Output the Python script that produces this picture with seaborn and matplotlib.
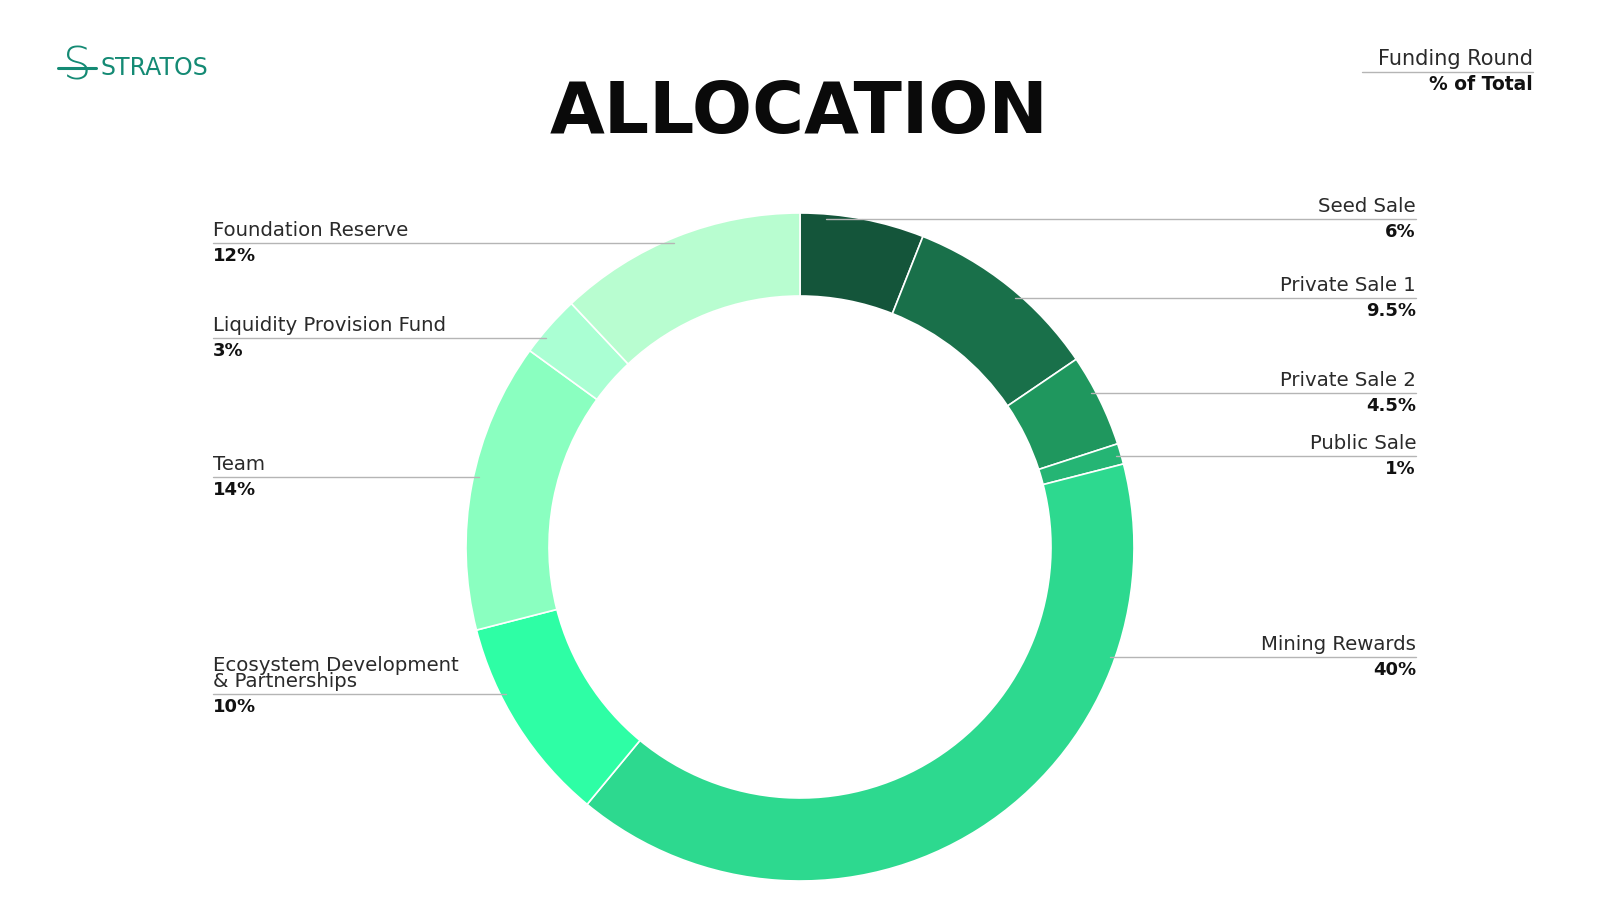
import numpy as np
import seaborn as sns
import matplotlib.pyplot as plt
from matplotlib.lines import Line2D

# allocation data, clockwise from 12 o'clock
names = ["Seed Sale", "Private Sale 1", "Private Sale 2", "Public Sale", "Mining Rewards",
         "Ecosystem Development\n& Partnerships", "Team", "Liquidity Provision Fund",
         "Foundation Reserve"]
shares = [6, 9.5, 4.5, 1, 40, 10, 14, 3, 12]
pct_labels = ["6%", "9.5%", "4.5%", "1%", "40%", "10%", "14%", "3%", "12%"]
colors = ["#14553a", "#19704a", "#1f975e", "#25b574", "#2dd98f",
          "#2efea5", "#8affc0", "#aaffd3", "#b8fdd0"]

# layout (pixels, y measured from the top)
W, H = 1600, 900
cx, cy = 800, 547
R, ring = 334, 83
label_y = [219, 298, 393, 456, 657, 694, 477, 338, 243]
label_side = [1, 1, 1, 1, 1, -1, -1, -1, -1]
right_x, left_x = 1416, 213
line_col = "#b5b5b5"

sns.set_theme(style="white")
plt.rcParams["font.family"] = ["DejaVu Sans"]

fig = plt.figure(figsize=(16, 9), dpi=100)
ax = fig.add_axes([0, 0, 1, 1])

ax.pie(shares, colors=colors, startangle=90, counterclock=False,
       center=(cx, H - cy), radius=R,
       wedgeprops=dict(width=ring, edgecolor="white", linewidth=1.2))
ax.set_xlim(0, W)
ax.set_ylim(0, H)
ax.set_aspect("auto")
ax.axis("off")

for name, pct, y, side in zip(names, pct_labels, label_y, label_side):
    dy = cy - y
    x0 = cx + side * np.sqrt((0.985 * R) ** 2 - dy ** 2)
    yy = H - y
    if side > 0:
        ax.add_line(Line2D([x0, right_x], [yy, yy], color=line_col, lw=1))
        tx, ha = right_x, "right"
    else:
        ax.add_line(Line2D([left_x, x0], [yy, yy], color=line_col, lw=1))
        tx, ha = left_x, "left"
    ax.text(tx, yy + 3, name, ha=ha, va="bottom", fontsize=14.2, color="#2a2a2a",
            linespacing=0.82)
    ax.text(tx, yy - 4, pct, ha=ha, va="top", fontsize=13, fontweight="bold",
            color="#111111")

# title
ax.text(799, H - 113, "ALLOCATION", ha="center", va="center", fontsize=51,
        fontweight="bold", color="#0a0a0a")

# header key, top right
ax.add_line(Line2D([1362, 1533], [H - 72, H - 72], color=line_col, lw=1))
ax.text(1533, H - 69, "Funding Round", ha="right", va="bottom", fontsize=15,
        color="#2a2a2a")
ax.text(1533, H - 75, "% of Total", ha="right", va="top", fontsize=13.5,
        fontweight="bold", color="#111111")

# logo
teal = "#148a74"
ax.text(77, H - 67, "S", ha="center", va="center", fontsize=32, color=teal,
        fontweight="light")
ax.add_line(Line2D([58, 96], [H - 68, H - 68], color=teal, lw=2.2))
ax.text(101, H - 68, "STRATOS", ha="left", va="center", fontsize=17, color=teal)

fig.savefig("out.png", dpi=100, facecolor="white")
